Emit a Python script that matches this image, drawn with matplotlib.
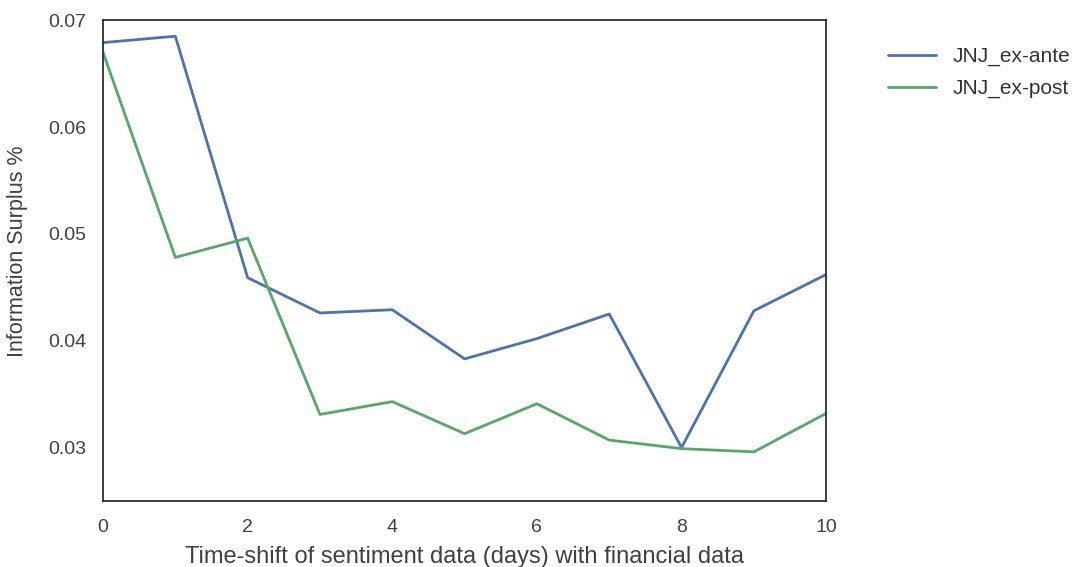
import matplotlib

matplotlib.use("Agg")
import matplotlib.pyplot as plt
import seaborn as sns

# time shift (days)
shifts = [0, 1, 2, 3, 4, 5, 6, 7, 8, 9, 10]
ex_ante = [0.0679, 0.0685, 0.0459, 0.0426, 0.0429, 0.0383, 0.0402, 0.0425, 0.0300, 0.0428, 0.0462]
ex_post = [0.0670, 0.0478, 0.0496, 0.0331, 0.0343, 0.0313, 0.0341, 0.0307, 0.0299, 0.0296, 0.0332]
labels = ["JNJ_ex-ante", "JNJ_ex-post"]

sns.set_style("white")
plt.rcParams["font.family"] = ["Liberation Sans", "DejaVu Sans"]
plt.rcParams["axes.edgecolor"] = ".15"
plt.rcParams["axes.linewidth"] = 1.25

fig = plt.figure(figsize=(10.73, 5.67), dpi=100)
ax = fig.add_axes([0.096, 0.1164, 0.674, 0.848])

ax.plot(shifts, ex_ante, color="#4C72B0", lw=2.0, label=labels[0])
ax.plot(shifts, ex_post, color="#55A868", lw=2.0, label=labels[1])

ax.set_xlim(0, 10)
ax.set_ylim(0.025, 0.0698)
ax.set_xticks([0, 2, 4, 6, 8, 10])
ax.set_yticks([0.03, 0.04, 0.05, 0.06, 0.07])
ax.set_yticklabels(["0.03", "0.04", "0.05", "0.06", "0.07"])
ax.tick_params(labelsize=14, colors=".25", length=0)
ax.tick_params(axis="y", pad=12)
ax.tick_params(axis="x", pad=13)
ax.set_xlabel("Time-shift of sentiment data (days) with financial data",
              fontsize=17, color=".25", labelpad=7)
ax.set_ylabel("Information Surplus %", fontsize=15.5, color=".25")
ax.yaxis.set_label_coords(-0.104, 0.52)

ax.legend(loc="upper left", bbox_to_anchor=(1.06, 0.983), frameon=False, fontsize=15,
          handlelength=2.3, labelspacing=0.6, labelcolor=".2")

fig.savefig("out.png", dpi=100)
